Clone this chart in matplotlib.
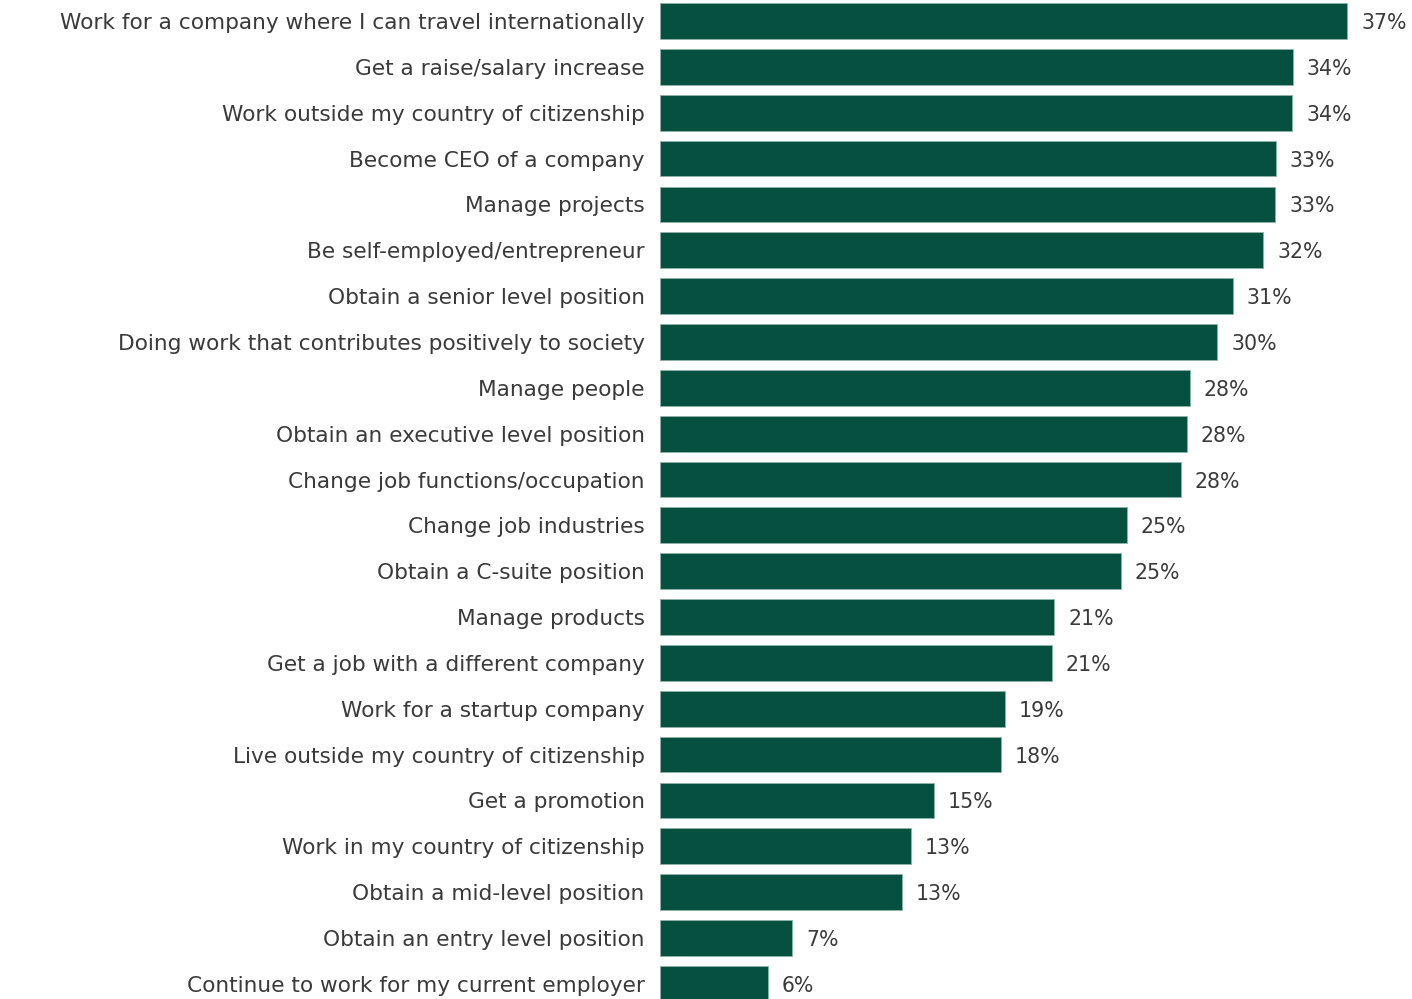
import matplotlib
matplotlib.use("Agg")
import matplotlib.pyplot as plt

categories = [
    "Work for a company where I can travel internationally",
    "Get a raise/salary increase",
    "Work outside my country of citizenship",
    "Become CEO of a company",
    "Manage projects",
    "Be self-employed/entrepreneur",
    "Obtain a senior level position",
    "Doing work that contributes positively to society",
    "Manage people",
    "Obtain an executive level position",
    "Change job functions/occupation",
    "Change job industries",
    "Obtain a C-suite position",
    "Manage products",
    "Get a job with a different company",
    "Work for a startup company",
    "Live outside my country of citizenship",
    "Get a promotion",
    "Work in my country of citizenship",
    "Obtain a mid-level position",
    "Obtain an entry level position",
    "Continue to work for my current employer",
]
values = [36.74, 33.85, 33.80, 32.94, 32.89, 32.25, 30.64, 29.79, 28.34, 28.18,
          27.86, 24.97, 24.65, 21.07, 20.96, 18.45, 18.24, 14.65, 13.42, 12.94,
          7.06, 5.78]
value_labels = ["37%", "34%", "34%", "33%", "33%", "32%", "31%", "30%", "28%", "28%",
                "28%", "25%", "25%", "21%", "21%", "19%", "18%", "15%", "13%", "13%",
                "7%", "6%"]

plt.rcParams['font.family'] = ['DejaVu Sans']

W, H = 1412, 999
fig = plt.figure(figsize=(W / 100, H / 100), dpi=100)
ax = fig.add_axes([660 / W, 0, (W - 660) / W, 1])

bar_color = "#06503F"
text_color = "#3a3a3a"
pos = list(range(len(categories)))
ax.barh(pos, values, height=0.78, color=bar_color, edgecolor="#8fb3a8", linewidth=0.6)

px_per_unit = 18.7
ax.set_xlim(0, (W - 660) / px_per_unit)
ax.set_ylim(21.33, -0.458)

for p, v, lab in zip(pos, values, value_labels):
    ax.annotate(lab, (v, p), xytext=(14, 0), textcoords="offset pixels",
                va="center_baseline", ha="left", fontsize=14.8, color=text_color)

ax.set_yticks(pos)
ax.set_yticklabels(categories, fontsize=15.6, color=text_color, va="center_baseline")
ax.tick_params(axis="y", length=0, pad=11)
ax.set_xticks([])
for s in ax.spines.values():
    s.set_visible(False)

fig.savefig("out.png", dpi=100)
